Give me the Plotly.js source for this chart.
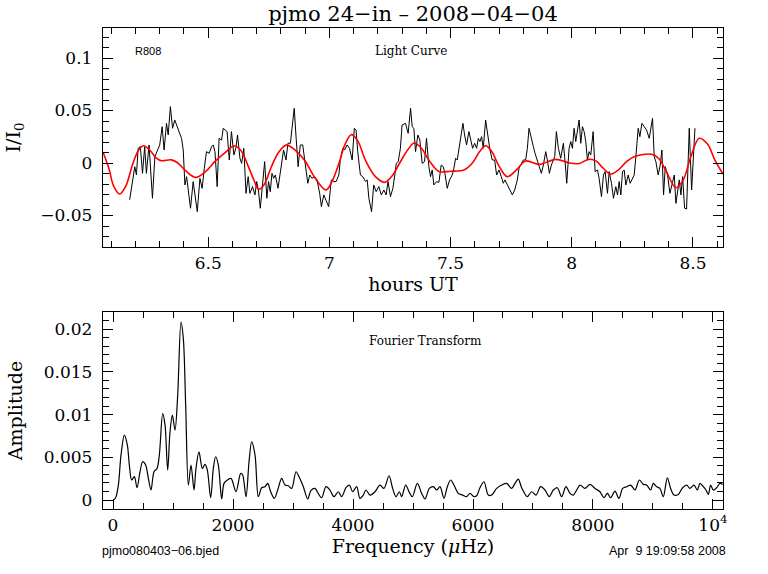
<!DOCTYPE html>
<html>
<head>
<meta charset="utf-8">
<script src="https://cdn.plot.ly/plotly-3.0.1.min.js"></script>
<style>html,body{margin:0;padding:0;background:#fff;}#chart{width:768px;height:574px;}</style>
</head>
<body>
<div id="chart"></div>
<script>
// ---- Light curve (black, observed) ----
const lcTime = [6.176,6.197,6.204,6.211,6.220,6.229,6.238,6.245,6.256,6.270,6.280,6.289,6.300,6.310,6.318,6.328,6.335,6.344,6.353,6.362,6.376,6.390,6.397,6.404,6.411,6.418,6.427,6.438,6.448,6.455,6.466,6.475,6.484,6.493,6.504,6.514,6.521,6.528,6.537,6.545,6.555,6.562,6.578,6.587,6.596,6.606,6.614,6.621,6.631,6.638,6.647,6.656,6.665,6.672,6.683,6.693,6.700,6.707,
6.715,6.725,6.733,6.742,6.749,6.756,6.763,6.770,6.777,6.788,6.798,6.804,6.811,6.821,6.829,6.839,6.846,6.855,6.862,6.871,6.880,6.890,6.901,6.911,6.919,6.928,6.939,6.949,6.960,6.967,6.977,6.986,6.997,7.008,7.018,7.028,7.039,7.045,7.055,7.063,7.073,7.083,7.094,7.103,7.110,7.117,7.128,7.138,7.149,7.156,7.163,7.174,7.183,7.193,7.204,7.214,7.225,7.234,7.242,7.252,7.262,7.270,7.276,7.284,7.293,7.300,7.314,7.325,7.335,
7.3416,7.3485,7.3554,7.365,7.3733,7.3829,7.3926,7.4008,7.4105,7.4173,7.4242,7.4311,7.4421,7.4518,7.4614,7.4697,7.4766,7.4862,7.4959,7.5069,7.5138,7.5207,7.5275,7.5344,7.5413,7.551,7.5578,7.5661,7.5757,7.5826,7.5909,7.5992,7.6074,7.6143,7.6212,7.6281,7.635,7.6446,7.6543,7.6625,7.6722,7.6818,7.6901,7.6997,7.7094,7.7176,7.7245,7.7342,7.7452,7.7548,7.7645,7.7755,7.7824,7.7893,7.8003,7.8099,7.8168,7.8237,7.8333,7.8416,7.8485,7.8581,7.8678,7.8747,7.8829,7.8926,7.8994,7.9077,7.916,7.9242,7.9297,7.9366,7.9449,7.9545,7.9655,7.9724,7.9793,7.989,7.9959,
8.0027,8.0096,8.0165,8.0234,8.0303,8.0372,8.0441,8.051,8.0578,8.0647,8.0716,8.0785,8.0882,8.0964,8.1061,8.1129,8.1226,8.1308,8.1377,8.1474,8.1543,8.1639,8.1722,8.1818,8.1887,8.1956,8.2025,8.2094,8.2162,8.2231,8.2328,8.241,8.2479,8.2576,8.2645,8.2741,8.281,8.2893,8.2989,8.3085,8.3196,8.3264,8.3333,8.3402,8.3471,8.3567,8.365,8.3719,8.3788,8.3857,8.3953,8.405,8.4132,8.4229,8.4297,8.4366,8.4435,8.4504,8.4573,8.4656,8.4738,8.4848,8.4945,8.5083];
const lcFlux = [-0.035,-0.0035,-0.0114,0.014,0.0156,-0.0098,0.0156,-0.0098,0.0172,-0.0336,0.0061,0.0108,0.0172,0.0346,0.0124,0.0378,0.0267,0.0537,0.0331,0.041,0.0331,0.0235,0.0124,-0.0209,-0.013,-0.0241,-0.0431,-0.0177,-0.0351,-0.0463,-0.0146,-0.0241,-0.005,0.0108,0.0092,0.0156,0.0172,0.0108,-0.0225,0.0235,0.0219,0.0331,0.0299,0.0029,0.0299,0.0077,0.014,0.0267,0.0045,-0.0003,0.014,-0.0289,-0.013,-0.0289,-0.0225,-0.0304,-0.0177,-0.0257,
-0.0431,-0.0193,0.0013,-0.0336,-0.0177,-0.0273,-0.0098,-0.0146,-0.0114,-0.0241,-0.0082,0.0029,0.0124,0.0029,0.0188,0.0188,0.0362,0.0521,0.0267,-0.0035,0.0172,0.0172,-0.0019,-0.0193,-0.0114,-0.0146,-0.013,-0.0161,-0.0289,-0.0415,-0.0304,-0.035,-0.0415,-0.0161,-0.0177,-0.0177,-0.0114,0.0029,0.014,0.0124,0.0172,0.014,0.0029,0.0331,0.0315,0.0108,-0.0114,-0.013,-0.0177,-0.0161,-0.0336,-0.0463,-0.0209,-0.0273,-0.0225,-0.0304,-0.0257,-0.0304,-0.0177,-0.032,-0.0241,-0.0114,-0.0003,0.0013,0.014,0.0362,0.0378,0.0283,0.0521,
0.0346,0.0331,0.0108,0.0267,0.0219,-0.0003,0.0013,0.0235,-0.0035,-0.013,-0.0066,-0.0209,-0.0177,-0.0184,-0.0019,-0.0035,-0.0098,-0.0241,-0.0161,-0.0114,-0.005,0.0045,0.0029,0.0124,0.0251,0.0378,0.0267,0.0172,0.0299,0.0235,0.014,0.0188,0.014,0.0235,0.0204,0.0251,0.014,0.041,0.0251,0.0124,0.0029,0.0029,-0.0114,-0.0066,-0.013,-0.0193,-0.0161,-0.0209,-0.0273,-0.0304,-0.0257,-0.0161,-0.005,-0.0019,0.0029,0.0029,0.014,0.0331,0.0251,0.0156,0.0092,0.0013,-0.0066,-0.0098,-0.0019,0.0108,0.0029,-0.0098,-0.0019,0.0029,0.0061,0.0299,0.014,0.0045,0.0188,0.0013,-0.0193,0.014,0.0204,
0.014,0.0331,0.0204,0.0299,0.041,0.0188,0.0346,0.0299,0.0204,0.0029,0.0108,0.0077,0.0299,-0.0082,-0.0066,-0.0146,-0.032,-0.0114,-0.0082,-0.0289,-0.0082,-0.0193,-0.0336,-0.0225,-0.0304,-0.0177,-0.0304,-0.0082,-0.0066,-0.0209,-0.0114,-0.0193,-0.0161,-0.0114,0.0061,0.0331,0.0251,0.0378,0.0346,0.0315,0.0235,0.0331,0.0426,0.0061,0.0013,-0.0114,-0.0019,0.0124,-0.0304,-0.0035,-0.0114,-0.0289,-0.0193,-0.0114,-0.0384,-0.0241,-0.0161,-0.0304,-0.013,-0.0431,-0.0438,0.0331,-0.0257,0.0331];

// ---- Fitted curve (red) ----
const fitTime = [6.066,6.09,6.11,6.135,6.16,6.19,6.215,6.234,6.26,6.285,6.307,6.348,6.375,6.41,6.449,6.49,6.53,6.57,6.607,6.635,6.665,6.69,6.708,6.73,6.76,6.79,6.822,6.86,6.90,6.94,6.986,7.01,7.04,7.065,7.09,7.115,7.15,7.19,7.228,7.26,7.29,7.325,7.35,7.38,7.41,7.452,7.5,7.555,7.59,7.62,7.645,7.67,7.70,7.734,7.77,7.81,7.865,7.934,7.99,8.03,8.07,8.10,8.13,8.16,8.19,8.225,8.257,8.33,8.36,8.39,8.43,8.46,8.49,8.526,8.56,8.59,8.624];
const fitFlux = [0.0105,-0.005,-0.022,-0.0295,-0.022,0.000,0.013,0.0165,0.012,0.005,0.0022,0.003,0.000,-0.008,-0.0137,-0.008,0.002,0.010,0.0162,0.012,-0.003,-0.017,-0.025,-0.021,-0.004,0.010,0.017,0.012,0.002,-0.014,-0.0257,-0.018,0.000,0.018,0.027,0.022,0.002,-0.013,-0.0184,-0.012,0.000,0.013,0.019,0.014,0.003,-0.008,-0.0078,-0.0067,0.000,0.011,0.0165,0.011,-0.003,-0.013,-0.007,0.0019,-0.0013,0.0035,0.000,-0.0005,0.0035,0.002,-0.005,-0.0105,-0.007,0.001,0.006,0.0083,0.004,-0.008,-0.0235,-0.016,0.005,0.0235,0.018,0.003,-0.0105];

// ---- Fourier transform ----
const ftFreq = [5,44,89,133,189,239,272,311,356,400,450,494,544,589,633,683,733,772,828,867,911,950,989,1033,1078,1133,1172,1211,1256,1300,1350,1383,1433,1489,1533,1572,1628,1672,1711,1756,1811,1850,1906,1967,2050,2128,2161,2217,2267,2311,2367,2422,2478,2534,2578,2628,2689,2745,2811,2867,2922,2978,3050,3100,3172,3245,3300,3367,
3405,3477,3550,3616,3683,3755,3811,3883,3939,3994,4061,4116,4172,4216,4283,4366,4450,4516,4600,4661,4716,4772,4811,4878,4939,4989,5072,5144,5200,5272,5339,5394,5450,5516,5572,5628,5683,5755,5827,5894,5950,6016,6061,6116,6183,6255,6311,6394,6478,6561,6644,6700,6755,6811,
6905,6977,7050,7127,7200,7272,7339,7405,7478,7550,7617,7672,7728,7783,7866,7950,8033,8116,8183,8239,8294,8366,8433,8494,8561,8628,8700,8772,8839,8894,8961,9005,9061,9116,9172,9239,9294,9350,9422,9494,9561,9616,9683,9739,9783,9839,9883,9922,9961,10005,10061,10116,10161];
const ftAmp = [0,0.00027,0.00175,0.00526,0.0076,0.00643,0.00409,0.00234,0.00273,0.00144,0.00331,0.00448,0.00409,0.00253,0.00117,0.00331,0.0037,0.00526,0.0101,0.00876,0.0035,0.00798,0.00993,0.00818,0.01227,0.02083,0.01889,0.0111,0.00175,0.00409,0.00117,0.0037,0.00564,0.0037,0.00417,0.0035,0.00027,0.0037,0.00506,0.00409,0.00012,0.00195,0.00234,0.00253,0.00097,0.00312,0.00292,0.00039,0.00448,0.00681,0.00526,0.00039,0.00144,0.00156,0.00195,0.00097,0.0002,0.00117,0.00253,0.00175,0.00167,0.00136,0.00331,0.00273,0.00156,0.00012,0.00113,0.00136,
0.00097,0.00027,0.00156,0.00117,0.00039,0.00097,0.00039,0.00144,0.00175,0.00097,0.00156,0.00019,0.00058,0.00117,0.00058,0.00097,0.00175,0.00136,0.00284,0.00136,0.00039,0.00097,0.00039,0.00175,0.0009,0.00039,0.00195,0.00078,0.00012,0.00136,0.00156,0.00117,0.00156,0.00019,0.00156,0.00234,0.00175,0.00078,0.00058,0.00039,0.00078,0.00039,0.0005,0.00144,0.00214,0.00058,0.00058,0.00136,0.00175,0.00195,0.00136,0.00195,0.00245,0.00144,
0.00039,0.00097,0.00058,0.00156,0.00117,0.00039,0.00117,0.00144,0.00039,0.00156,0.00078,0.00058,0.00117,0.00175,0.00136,0.00183,0.00136,0.00097,0.00027,0.00078,0.00027,0.00105,0.00019,0.00136,0.00156,0.00175,0.00117,0.00234,0.00183,0.00175,0.00117,0.00195,0.00156,0.00136,0.00039,0.0026,0.00136,0.00058,0.00066,0.00144,0.00175,0.00136,0.00175,0.00117,0.00195,0.00156,0.00117,0.00066,0.00175,0.00117,0.00144,0.00195,0.00183];

// ---- Tick labels ----
const lcTickVals = [6.5,7,7.5,8,8.5];
const lcTickText = ['6.5','7','7.5','8','8.5'];
const lcYTickVals = [-0.05,0,0.05,0.1];
const lcYTickText = ['\u22120.05','0','0.05','0.1'];
const ftTickVals = [0,2000,4000,6000,8000,10000];
const ftTickText = ['0','2000','4000','6000','8000','10<sup>4</sup>'];
const ftYTickVals = [0,0.005,0.01,0.015,0.02];
const ftYTickText = ['0','0.005','0.01','0.015','0.02'];

const SERIF = 'DejaVu Serif, serif';
const SANS = 'Liberation Sans, Arial, sans-serif';
const tickFont = {family: SERIF, size: 17, color: '#000'};
const titleFont = {family: SERIF, size: 19, color: '#000'};

function axisBase(extra) {
  return Object.assign({
    showline: true, linecolor: '#000', linewidth: 1.2, mirror: 'allticks',
    ticks: 'inside', ticklen: 10, tickwidth: 1, tickcolor: '#000',
    showgrid: false, zeroline: false, tickfont: tickFont, automargin: false
  }, extra);
}

const traces = [
  {x: lcTime, y: lcFlux, type: 'scatter', mode: 'lines', line: {color: '#000', width: 1}, xaxis: 'x', yaxis: 'y', hoverinfo: 'skip'},
  {x: fitTime, y: fitFlux, type: 'scatter', mode: 'lines', line: {color: '#ff0000', width: 1.6, shape: 'spline', smoothing: 1}, xaxis: 'x', yaxis: 'y', hoverinfo: 'skip'},
  {x: ftFreq, y: ftAmp, type: 'scatter', mode: 'lines', line: {color: '#000', width: 1.2, shape: 'spline', smoothing: 0.9}, xaxis: 'x2', yaxis: 'y2', hoverinfo: 'skip'}
];

const layout = {
  width: 768, height: 574,
  margin: {l: 103, r: 45, t: 28, b: 65},
  paper_bgcolor: '#fff', plot_bgcolor: '#fff',
  showlegend: false,
  title: {text: 'pjmo 24\u2212in \u2013 2008\u221204\u221204', font: {family: SERIF, size: 21, color: '#000'}, x: 0.5, xref: 'paper', xanchor: 'center', y: 0.976, yref: 'container', yanchor: 'middle'},
  xaxis: axisBase({domain: [0, 1], anchor: 'y', range: [6.066, 8.624], tickvals: lcTickVals, ticktext: lcTickText,
    minor: {dtick: 0.1, tick0: 6, ticks: 'inside', ticklen: 6, tickcolor: '#000'},
    title: {text: 'hours UT', font: titleFont, standoff: 4}}),
  yaxis: axisBase({domain: [0.5447, 1], anchor: 'x', range: [-0.08, 0.1286], tickvals: lcYTickVals, ticktext: lcYTickText,
    ticklabelstandoff: 6,
    minor: {dtick: 0.01, tick0: 0, ticks: 'inside', ticklen: 6, tickcolor: '#000'},
    title: {text: 'I/I<sub>0</sub>', font: titleFont, standoff: 14}}),
  xaxis2: axisBase({domain: [0, 1], anchor: 'y2', range: [-167, 10167], tickvals: ftTickVals, ticktext: ftTickText,
    minor: {dtick: 500, tick0: 0, ticks: 'inside', ticklen: 6, tickcolor: '#000'},
    title: {text: 'Frequency (<i>\u03bc</i>Hz)', font: titleFont, standoff: 6}}),
  yaxis2: axisBase({domain: [0, 0.4096], anchor: 'x2', range: [-0.00105, 0.022], tickvals: ftYTickVals, ticktext: ftYTickText,
    ticklabelstandoff: 6,
    minor: {dtick: 0.001, tick0: 0, ticks: 'inside', ticklen: 6, tickcolor: '#000'},
    title: {text: 'Amplitude', font: titleFont, standoff: 16}}),
  annotations: [
    {text: 'R808', xref: 'paper', yref: 'paper', x: (148-103)/620, y: (509-51)/481, showarrow: false, font: {family: SANS, size: 11, color: '#000'}, xanchor: 'center', yanchor: 'middle'},
    {text: 'Light Curve', xref: 'paper', yref: 'paper', x: (411-103)/620, y: (509-51)/481, showarrow: false, font: {family: SERIF, size: 12, color: '#000'}, xanchor: 'center', yanchor: 'middle'},
    {text: 'Fourier Transform', xref: 'paper', yref: 'paper', x: (425-103)/620, y: (509-341)/481, showarrow: false, font: {family: SERIF, size: 12, color: '#000'}, xanchor: 'center', yanchor: 'middle'},
    {text: 'pjmo080403\u221206.bjed', xref: 'paper', yref: 'paper', x: (100-103)/620, y: (509-551)/481, showarrow: false, font: {family: SANS, size: 12.5, color: '#000'}, xanchor: 'left', yanchor: 'middle'},
    {text: 'Apr&nbsp;&nbsp;9 19:09:58 2008', xref: 'paper', yref: 'paper', x: (728-103)/620, y: (509-551)/481, showarrow: false, font: {family: SANS, size: 12.5, color: '#000'}, xanchor: 'right', yanchor: 'middle'}
  ]
};

Plotly.newPlot('chart', traces, layout, {displayModeBar: false, staticPlot: true});
</script>
</body>
</html>
